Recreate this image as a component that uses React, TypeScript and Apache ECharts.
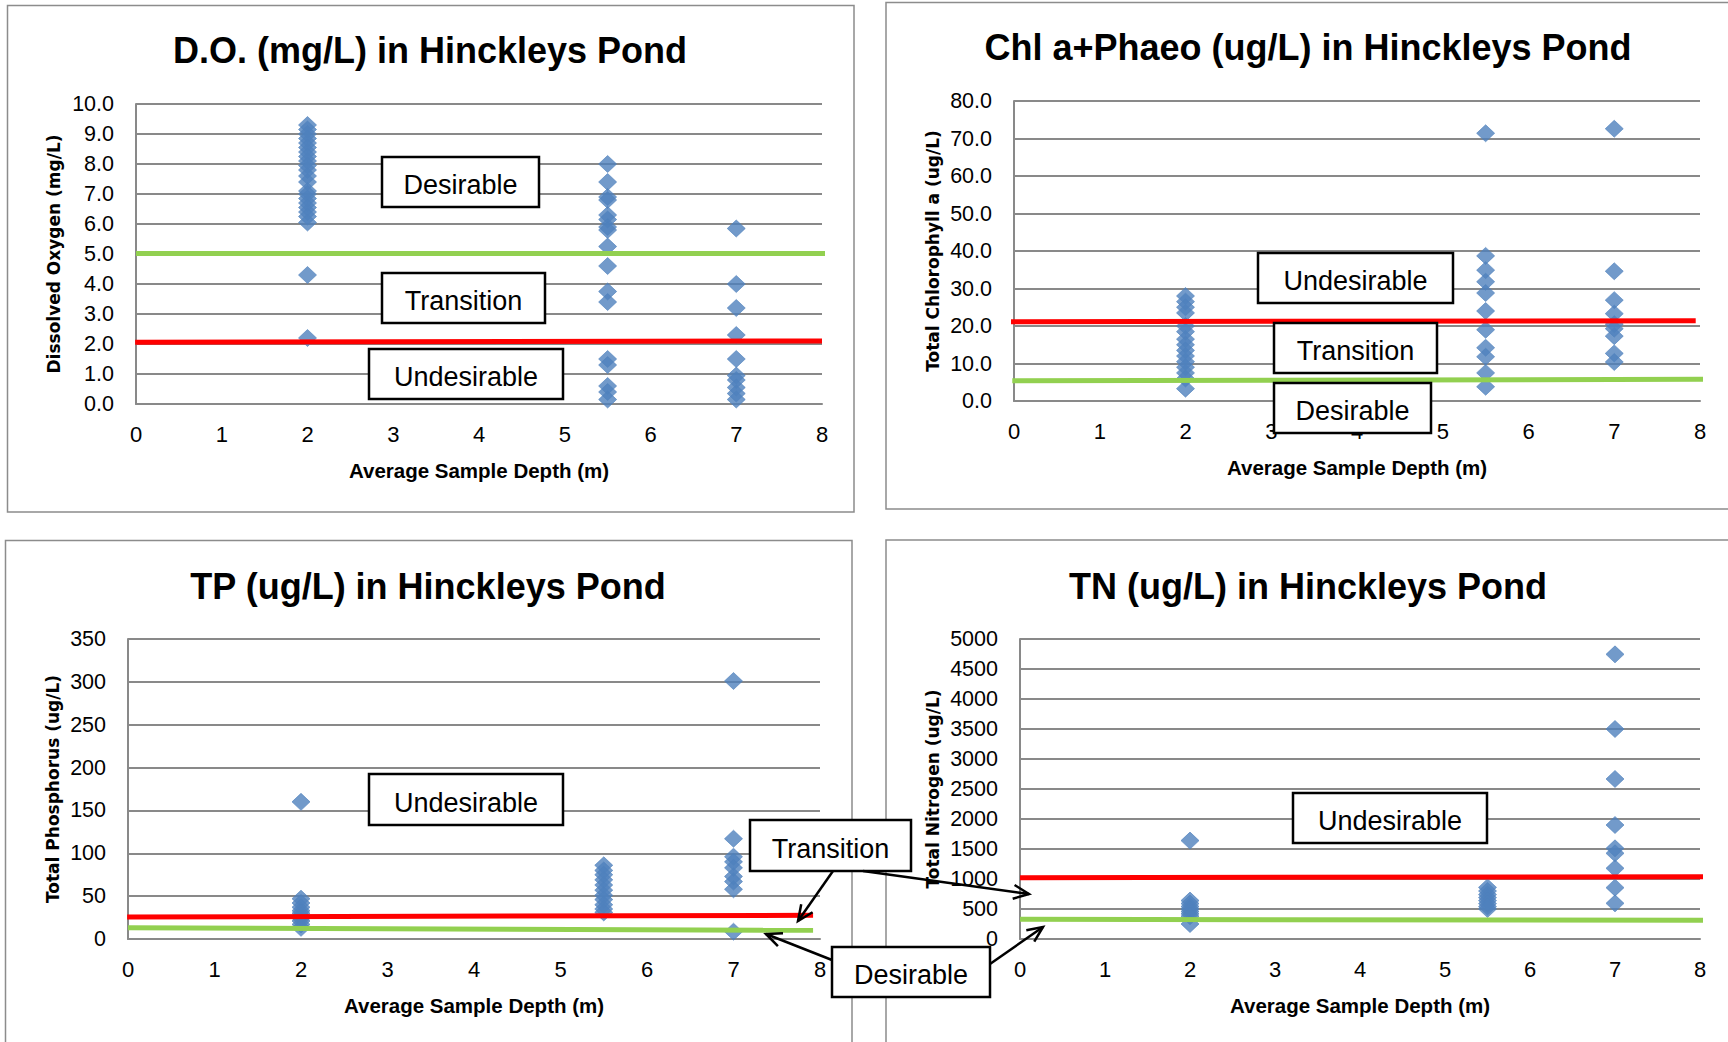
import React, { useEffect, useRef } from "react";
import * as echarts from "echarts";

// ---------- data ----------
const DEPTHS = [2, 5.5, 7];
const X_NAME = "Average Sample Depth (m)";

// Dissolved oxygen (mg/L)
const doAt2 = [9.3, 9.15, 9.0, 8.85, 8.7, 8.55, 8.4, 8.25, 8.1, 7.95, 7.8, 7.6, 7.4, 7.1, 7.0, 6.85, 6.7, 6.55, 6.4, 6.25, 6.05, 4.3, 2.2];
const doAt55 = [8.0, 7.4, 6.9, 6.8, 6.3, 6.15, 5.9, 5.8, 5.25, 4.6, 3.75, 3.4, 1.5, 1.3, 0.6, 0.4, 0.15];
const doAt7 = [5.85, 4.0, 3.2, 2.3, 1.5, 0.95, 0.8, 0.55, 0.35, 0.15];
const doGreen = [[0, 5.02], [8.05, 5.02]];
const doRed = [[-0.01, 2.06], [8.0, 2.1]];

// Chl a + Phaeo (ug/L)
const chlAt2 = [28.0, 26.5, 25.0, 23.5, 20.0, 18.5, 16.5, 15.0, 13.5, 12.0, 10.5, 9.0, 7.5, 6.0, 3.3];
const chlAt55 = [71.4, 38.7, 34.9, 31.8, 28.8, 24.0, 19.0, 14.2, 11.8, 7.5, 3.8];
const chlAt7 = [72.6, 34.6, 26.9, 23.3, 20.5, 19.3, 17.3, 12.7, 10.4];
const chlGreen = [[-0.02, 5.4], [8.08, 5.8]];
const chlRed = [[-0.06, 21.15], [7.95, 21.4]];

// Total phosphorus (ug/L)
const tpAt2 = [160, 47, 42, 37, 33, 30, 27, 24, 21, 17, 13];
const tpAt55 = [86, 80, 75, 69, 63, 57, 51, 46, 40, 35, 31];
const tpAt7 = [301, 117, 96, 90, 83, 73, 67, 58, 8.5];
const tpGreen = [[0, 13.2], [7.92, 10.1]];
const tpRed = [[-0.01, 25.7], [7.92, 27.6]];

// Total nitrogen (ug/L)
const tnAt2 = [1640, 640, 590, 540, 500, 460, 420, 380, 250];
const tnAt55 = [860, 800, 740, 690, 640, 590, 540, 500];
const tnAt7 = [4744, 3500, 2667, 1900, 1511, 1428, 1178, 856, 594];
const tnGreen = [[0, 328], [8.12, 312]];
const tnRed = [[0, 1022], [8.08, 1039]];

// ---------- style ----------
const FONT = "'Liberation Sans', Arial, sans-serif";
const WIDE = "'DejaVu Sans', Verdana, sans-serif";
const GRID_GRAY = "#898989";
const MARK = "#4F81BD";
const GREEN = "#92D050";
const RED = "#FF0000";

const panels = [
  {
    title: "D.O. (mg/L) in Hinckleys Pond", tx: 430, ty: 50,
    grid: { left: 136, top: 104, width: 686, height: 300 },
    yMax: 10, yInt: 1, dec: 1, yName: "Dissolved Oxygen (mg/L)", yGap: 74,
    groups: [doAt2, doAt55, doAt7], green: doGreen, red: doRed,
  },
  {
    title: "Chl a+Phaeo (ug/L) in Hinckleys Pond", tx: 1308, ty: 47,
    grid: { left: 1014, top: 101, width: 686, height: 300 },
    yMax: 80, yInt: 10, dec: 1, yName: "Total Chlorophyll a (ug/L)", yGap: 73,
    groups: [chlAt2, chlAt55, chlAt7], green: chlGreen, red: chlRed,
  },
  {
    title: "TP (ug/L) in Hinckleys Pond", tx: 428, ty: 586,
    grid: { left: 128, top: 639, width: 692, height: 300 },
    yMax: 350, yInt: 50, dec: 0, yName: "Total Phosphorus (ug/L)", yGap: 67,
    groups: [tpAt2, tpAt55, tpAt7], green: tpGreen, red: tpRed,
  },
  {
    title: "TN (ug/L) in Hinckleys Pond", tx: 1308, ty: 586,
    grid: { left: 1020, top: 639, width: 680, height: 300 },
    yMax: 5000, yInt: 500, dec: 0, yName: "Total Nitrogen (ug/L)", yGap: 79,
    groups: [tnAt2, tnAt55, tnAt7], green: tnGreen, red: tnRed,
  },
];

const boxes = [
  { text: "Desirable", x: 382, y: 157, w: 157, h: 50 },
  { text: "Transition", x: 382, y: 273, w: 163, h: 50 },
  { text: "Undesirable", x: 369, y: 349, w: 194, h: 50 },
  { text: "Undesirable", x: 1258, y: 253, w: 195, h: 50 },
  { text: "Transition", x: 1274, y: 323, w: 163, h: 50 },
  { text: "Desirable", x: 1274, y: 383, w: 157, h: 50 },
  { text: "Undesirable", x: 369, y: 774, w: 194, h: 51 },
  { text: "Transition", x: 750, y: 820, w: 161, h: 51 },
  { text: "Desirable", x: 832, y: 947, w: 158, h: 50 },
  { text: "Undesirable", x: 1293, y: 793, w: 194, h: 50 },
];

const arrows = [
  [833, 871, 798, 921],
  [863, 871, 1029, 894],
  [832, 960, 766, 934],
  [990, 964, 1043, 927],
];

const frames = [
  { x: 7.5, y: 5.5, w: 846.5, h: 506.5 },
  { x: 886, y: 2.5, w: 900, h: 506.5 },
  { x: 5.5, y: 540.5, w: 846.5, h: 600 },
  { x: 886, y: 540, w: 900, h: 600 },
];

function arrowEls(a: number[]) {
  const [x1, y1, x2, y2] = a;
  const ang = Math.atan2(y2 - y1, x2 - x1);
  const L = 17, s = 0.42;
  const p1 = [x2 - L * Math.cos(ang - s), y2 - L * Math.sin(ang - s)];
  const p2 = [x2 - L * Math.cos(ang + s), y2 - L * Math.sin(ang + s)];
  return [
    { type: "line", z: 120, shape: { x1, y1, x2, y2 }, style: { stroke: "#000", lineWidth: 2.5 } },
    { type: "polyline", z: 120, shape: { points: [p1, [x2, y2], p2] }, style: { stroke: "#000", lineWidth: 2.5, fill: null } },
  ];
}

function buildOption() {
  const grid: any[] = [];
  const xAxis: any[] = [];
  const yAxis: any[] = [];
  const series: any[] = [];
  panels.forEach((p, i) => {
    grid.push({ ...p.grid, containLabel: false });
    xAxis.push({
      type: "value", gridIndex: i, min: 0, max: 8, interval: 1,
      name: X_NAME, nameLocation: "middle", nameGap: 56,
      nameTextStyle: { fontFamily: FONT, fontWeight: "bold", fontSize: 20.5, color: "#000" },
      axisLine: { show: true, onZero: false, lineStyle: { color: GRID_GRAY, width: 2 } },
      axisTick: { show: false },
      axisLabel: { margin: 19, fontFamily: FONT, fontSize: 22, color: "#000" },
      splitLine: { show: false },
    });
    yAxis.push({
      type: "value", gridIndex: i, min: 0, max: p.yMax, interval: p.yInt,
      name: p.yName, nameLocation: "middle", nameGap: p.yGap, nameRotate: 90,
      nameTextStyle: { fontFamily: WIDE, fontWeight: "bold", fontSize: 17, color: "#000" },
      axisLine: { show: true, lineStyle: { color: GRID_GRAY, width: 2 } },
      axisTick: { show: false },
      axisLabel: {
        margin: 22, fontFamily: FONT, fontSize: 21.5, color: "#000",
        formatter: (v: number) => v.toFixed(p.dec),
      },
      splitLine: { show: true, lineStyle: { color: GRID_GRAY, width: 2 } },
    });
    const pts: number[][] = [];
    p.groups.forEach((vals, g) => vals.forEach((v) => pts.push([DEPTHS[g], v])));
    series.push({
      type: "scatter", xAxisIndex: i, yAxisIndex: i, data: pts,
      symbol: "diamond", symbolSize: [18, 17], clip: false, z: 2,
      itemStyle: { color: MARK, borderColor: MARK, borderWidth: 0.8 },
    });
    series.push({
      type: "line", xAxisIndex: i, yAxisIndex: i, data: p.green, symbol: "none",
      clip: false, z: 3, lineStyle: { color: GREEN, width: 5 },
    });
    series.push({
      type: "line", xAxisIndex: i, yAxisIndex: i, data: p.red, symbol: "none",
      clip: false, z: 3, lineStyle: { color: RED, width: 5 },
    });
  });

  const elements: any[] = [];
  frames.forEach((f) =>
    elements.push({
      type: "rect", z: 0, shape: { x: f.x, y: f.y, width: f.w, height: f.h },
      style: { fill: null, stroke: "#8c8c8c", lineWidth: 1.5 },
    })
  );
  panels.forEach((p) =>
    elements.push({
      type: "text", z: 110, x: p.tx, y: p.ty,
      style: {
        text: p.title, fill: "#000", fontFamily: FONT, fontWeight: "bold", fontSize: 36,
        align: "center", verticalAlign: "middle",
      },
    })
  );
  boxes.forEach((b) => {
    elements.push({
      type: "rect", z: 110, shape: { x: b.x, y: b.y, width: b.w, height: b.h },
      style: { fill: "#fff", stroke: "#000", lineWidth: 2.5 },
    });
    elements.push({
      type: "text", z: 111, x: b.x + b.w / 2, y: b.y + b.h / 2 + 3,
      style: {
        text: b.text, fill: "#000", fontFamily: FONT, fontSize: 27,
        align: "center", verticalAlign: "middle",
      },
    });
  });
  arrows.forEach((a) => elements.push(...arrowEls(a)));

  return {
    animation: false,
    backgroundColor: "#fff",
    grid, xAxis, yAxis, series,
    graphic: { elements },
  };
}

export default function App() {
  const ref = useRef<HTMLDivElement>(null);
  useEffect(() => {
    if (!ref.current) return;
    const chart = echarts.init(ref.current, undefined, { renderer: "svg" });
    chart.setOption(buildOption() as any);
    return () => chart.dispose();
  }, []);
  return (
    <div
      ref={ref}
      style={{ position: "fixed", left: 0, top: 0, width: 1728, height: 1042, background: "#fff" }}
    />
  );
}
